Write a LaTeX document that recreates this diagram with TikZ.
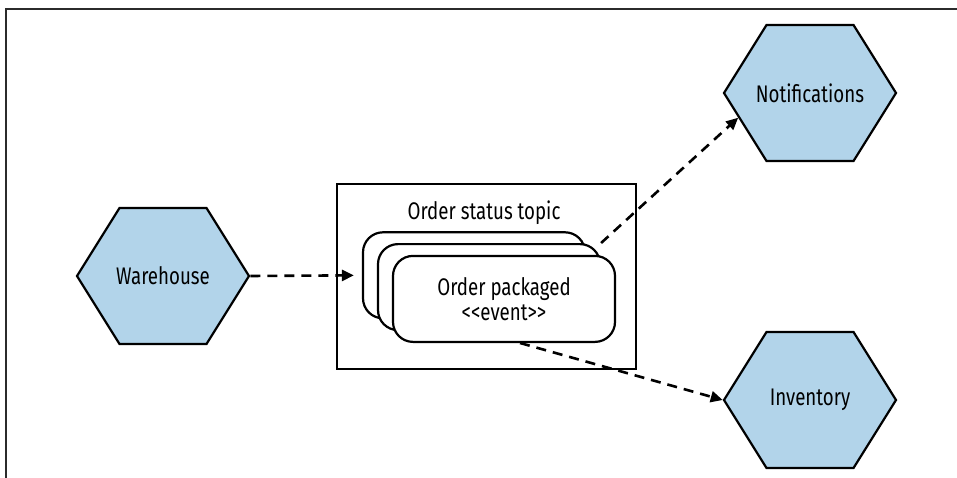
\documentclass[tikz,border=0pt]{standalone}
\usepackage{fontspec}
\setmainfont{Fira Sans}[FakeStretch=0.78, Ligatures=TeXOff]
\usetikzlibrary{arrows.meta, shapes.symbols}
\definecolor{chex}{HTML}{B2D4EA}
\definecolor{cframe}{HTML}{2B2B2B}
\tikzset{
  every picture/.style={line width=2.2pt},
  hexa/.style={shape=signal, signal to=east and west, signal pointer angle=116, draw, fill=chex,
    minimum width=172pt, minimum height=136pt, inner xsep=-30pt, inner ysep=0pt, font=\fontsize{24}{28}\selectfont},
  card/.style={draw, fill=white, rounded corners=20pt, minimum width=222pt, minimum height=86pt,
    align=center, inner sep=0pt, font=\fontsize{24}{25}\selectfont},
  topicbox/.style={draw, line width=2.5pt, minimum width=299pt, minimum height=185pt, inner sep=0pt},
  flow/.style={-{Triangle[length=12pt,width=11pt]}, dash pattern=on 10pt off 7pt, line width=2.6pt},
}

\begin{document}
\begin{tikzpicture}[x=1pt, y=1pt]
  \useasboundingbox (0,0) rectangle (957,-478);
  \draw[cframe, line width=1.3pt] (6,-478) -- (6,-9) -- (957,-9);
  \node[hexa] (wh) at (163,-276) {Warehouse};
  \node[hexa] (notif) at (810,-93) {Notifications};
  \node[hexa] (inv) at (810,-400) {Inventory};
  \node[topicbox] (topic) at (486.5,-276.5) {};
  \node[font=\fontsize{24}{28}\selectfont] (ttl) at (484,-213) {Order status topic};
  \foreach \i/\txt in {1/{}, 2/{}, 3/{Order packaged\\<<event>>}}
    \node[card] (c\i) at (459+15*\i, -263.5-11.8*\i) {\txt};
  \draw[flow, shorten >=8pt] (wh.east) -- (c1.west);
  \draw[flow] (c2.north east) -- (notif.199);
  \draw[flow] (c3.290) -- (inv.west);
\end{tikzpicture}
\end{document}
